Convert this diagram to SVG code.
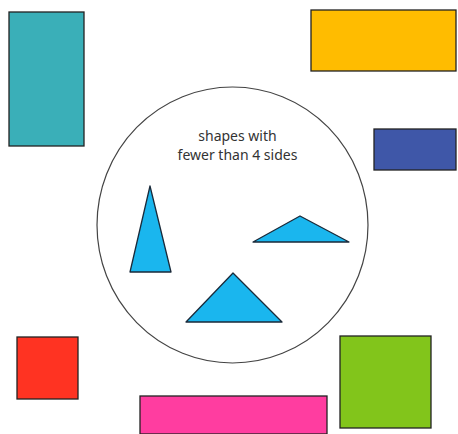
<svg xmlns="http://www.w3.org/2000/svg" width="458" height="434" viewBox="0 0 458 434">
<style>
.s{stroke:#222;stroke-width:1.3}
.t{fill:#1ab6ee;stroke:#1a2a3a;stroke-width:1.3;stroke-linejoin:round}
text{font-family:"Noto Sans","DejaVu Sans",sans-serif;font-size:14px;fill:#333;text-anchor:middle}
</style>
<rect width="458" height="434" fill="#fff"/>
<g id="teal"><rect class="s" x="9" y="12" width="75" height="134" fill="#3aafb8"/></g>
<g id="yellow"><rect class="s" x="311" y="10" width="145" height="61" fill="#ffbc00"/></g>
<g id="blue"><rect class="s" x="374" y="129" width="82" height="41" fill="#3f57a8"/></g>
<g id="circle"><ellipse cx="232.5" cy="225" rx="135.5" ry="138" fill="none" stroke="#444" stroke-width="1.2"/>
<text x="237.5" y="141">shapes with</text>
<text x="237.5" y="160">fewer than 4 sides</text></g>
<g id="tri1"><polygon class="t" points="150,186 130,272 171,272"/></g>
<g id="tri2"><polygon class="t" points="253,242 300,216 349,242"/></g>
<g id="tri3"><polygon class="t" points="186,322 233,273 282,322"/></g>
<g id="red"><rect class="s" x="17" y="337" width="61" height="62" fill="#ff3322"/></g>
<g id="pink"><rect class="s" x="140" y="396" width="187" height="38" fill="#ff3da0"/></g>
<g id="green"><rect class="s" x="340" y="336" width="91" height="92" fill="#82c51b"/></g>
<g id="connectors"></g>
</svg>
